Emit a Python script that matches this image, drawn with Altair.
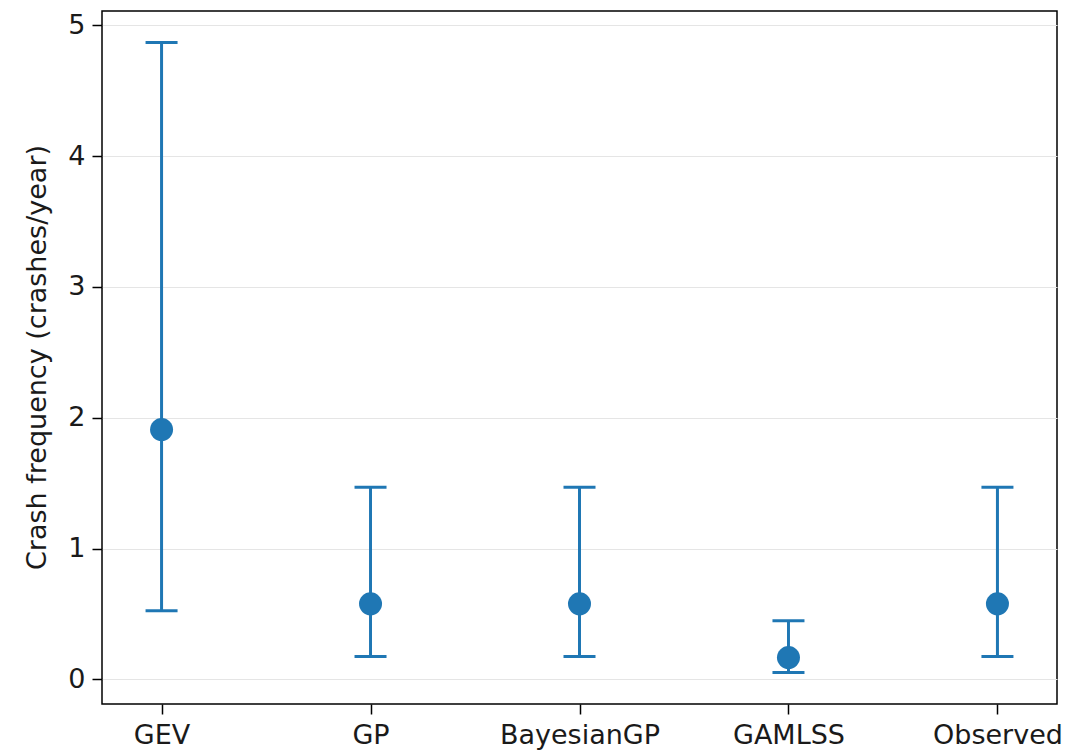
import altair as alt
import pandas as pd

models = ["GEV", "GP", "BayesianGP", "GAMLSS", "Observed"]
estimate = [1.91, 0.578, 0.578, 0.167, 0.578]
lower = [0.525, 0.175, 0.175, 0.053, 0.175]
upper = [4.87, 1.47, 1.47, 0.449, 1.47]

df = pd.DataFrame({"model": models, "est": estimate, "lo": lower, "hi": upper})

color = "#1f77b4"
txt = "#1a1a1a"
fs = 27
x = alt.X("model:N", sort=models, scale=alt.Scale(type="point", padding=0.285),
          axis=alt.Axis(title=None, labelAngle=0, grid=False, domain=False,
                        tickColor="black", tickSize=10, tickWidth=1.5, labelFontSize=fs,
                        labelColor=txt, labelBaseline="alphabetic", labelPadding=29))
yscale = alt.Scale(domain=[-0.188, 5.11], nice=False, zero=False)
yaxis = alt.Axis(title="Crash frequency (crashes/year)", values=[0, 1, 2, 3, 4, 5],
                 format="d", grid=True, gridColor="#e5e5e5", gridWidth=1.2, domain=False,
                 tickColor="black", tickSize=10, tickWidth=1.5, labelFontSize=fs,
                 titleFontSize=fs, titleFontWeight="normal", titleBaseline="alphabetic",
                 titleX=-57, titleY=346, titleAngle=270, titleAlign="center",
                 labelColor=txt, titleColor=txt, labelPadding=7)

base = alt.Chart(df)
rule = base.mark_rule(color=color, strokeWidth=3).encode(
    x=x, y=alt.Y("lo:Q", scale=yscale, axis=yaxis), y2="hi:Q")
cap_lo = base.mark_tick(color=color, thickness=3, size=32, orient="horizontal", opacity=1).encode(
    x=alt.X("model:N", sort=models), y=alt.Y("lo:Q"))
cap_hi = base.mark_tick(color=color, thickness=3, size=32, orient="horizontal", opacity=1).encode(
    x=alt.X("model:N", sort=models), y=alt.Y("hi:Q"))
pts = base.mark_circle(color=color, size=530, opacity=1).encode(
    x=alt.X("model:N", sort=models), y=alt.Y("est:Q"))

chart = alt.layer(rule, cap_lo, cap_hi, pts).properties(
    width=955, height=693,
    autosize=alt.AutoSizeParams(type="none"),
    padding={"left": 94, "top": 3, "right": 15, "bottom": 52},
).configure(font="DejaVu Sans").configure_view(stroke="black", strokeWidth=1.5)

chart.save("out.html", embed_options={"renderer": "svg", "actions": False})
